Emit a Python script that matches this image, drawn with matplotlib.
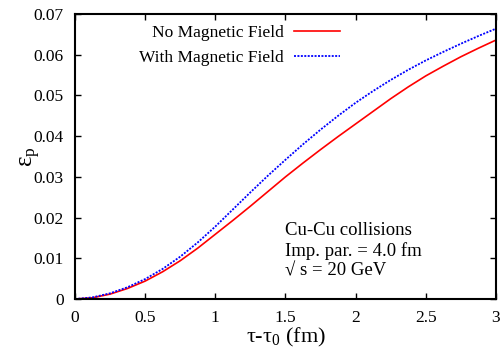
import matplotlib
matplotlib.use("Agg")
import matplotlib.pyplot as plt

plt.rcParams['font.family'] = ['Liberation Serif', 'DejaVu Serif']
plt.rcParams['mathtext.fontset'] = 'custom'
plt.rcParams['mathtext.rm'] = 'Liberation Serif'
plt.rcParams['mathtext.it'] = 'Liberation Serif:italic'

# proper time after tau_0 (fm) and spatial eccentricity
tau = [0.0, 0.125, 0.25, 0.375, 0.5, 0.625, 0.75, 0.875, 1.0, 1.125, 1.25,
       1.375, 1.5, 1.625, 1.75, 1.875, 2.0, 2.125, 2.25, 2.375, 2.5,
       2.625, 2.75, 2.875, 3.0]
eps_no_field = [0.0, 0.0003, 0.0012, 0.0026, 0.0044, 0.0067, 0.0094, 0.0125,
                0.0159, 0.0193, 0.0228, 0.0264, 0.0300, 0.0334, 0.0367,
                0.0399, 0.0430, 0.0461, 0.0492, 0.0521, 0.0548, 0.0572,
                0.0595, 0.0616, 0.0636]
eps_field = [0.0, 0.0004, 0.0014, 0.0029, 0.0049, 0.0074, 0.0104, 0.0139,
             0.0178, 0.0220, 0.0262, 0.0303, 0.0342, 0.0380, 0.0416,
             0.0450, 0.0482, 0.0511, 0.0538, 0.0563, 0.0586, 0.0607,
             0.0627, 0.0646, 0.0664]

xticks = [0, 0.5, 1, 1.5, 2, 2.5, 3]
xticklabels = ['0', '0.5', '1', '1.5', '2', '2.5', '3']
yticks = [0, 0.01, 0.02, 0.03, 0.04, 0.05, 0.06, 0.07]
yticklabels = ['0', '0.01', '0.02', '0.03', '0.04', '0.05', '0.06', '0.07']

fig = plt.figure(figsize=(5.02, 3.48), dpi=100)
ax = fig.add_axes([0.1494, 0.1408, 0.8386, 0.819])

ax.plot(tau, eps_no_field, color='#ff0000', lw=1.2, label='No Magnetic Field')
ax.plot(tau, eps_field, color='#0000ff', lw=1.3, ls=(0, (1.1, 0.8)),
        label='With Magnetic Field')

ax.set_xlim(0, 3)
ax.set_ylim(0, 0.07)
ax.set_xticks(xticks)
ax.set_xticklabels(xticklabels)
ax.set_yticks(yticks)
ax.set_yticklabels(yticklabels)
ax.tick_params(direction='in', top=True, right=True, length=4, width=1,
               labelsize=12.5)
ax.tick_params(axis='x', pad=8)
ax.tick_params(axis='y', pad=8)
for s in ax.spines.values():
    s.set_linewidth(1.5)

ax.set_xlabel('τ-τ$_0$ (fm)', fontsize=16, labelpad=0)
ax.set_ylabel('ε$_{\\rm p}$', fontsize=18, labelpad=-7)

ax.legend(loc='upper right', bbox_to_anchor=(0.646, 0.985), frameon=False,
          markerfirst=False, fontsize=12.5, handlelength=2.65,
          handletextpad=0.6, labelspacing=0.5, borderaxespad=0.0)

ax.text(0.499, 0.27, 'Cu-Cu collisions\nImp. par. = 4.0 fm\n√ s = 20 GeV',
        transform=ax.transAxes, fontsize=13.5, va='top', ha='left',
        linespacing=1.22)

fig.savefig('out.png', dpi=100)
